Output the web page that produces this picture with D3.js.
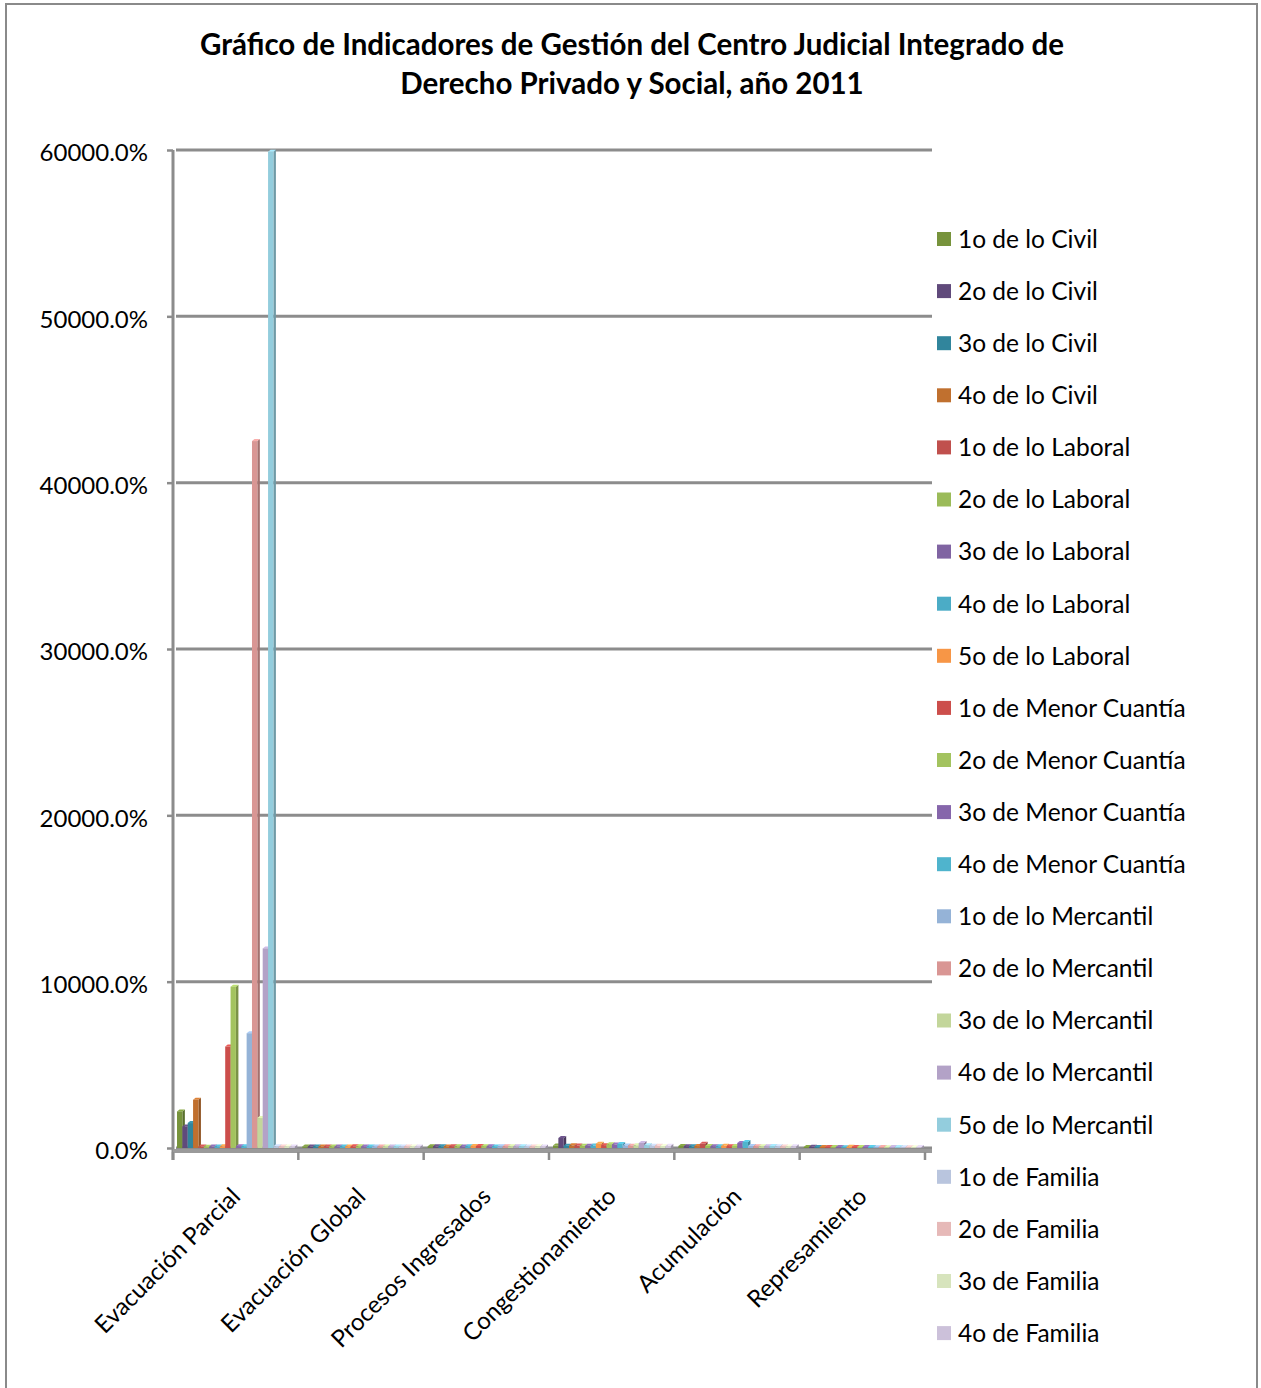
<!DOCTYPE html>
<html>
<head>
<meta charset="utf-8">
<script src="https://cdn.jsdelivr.net/npm/d3@7"></script>
<style>
  html, body { margin: 0; padding: 0; background: #fff; }
  svg { display: block; font-family: Lato, "Open Sans", sans-serif; }
</style>
</head>
<body>
<svg id="chart" width="1261" height="1388"></svg>
<script>
// ---------- data ----------
const titleLines = [
  "Gráfico de Indicadores de Gestión del Centro Judicial Integrado de",
  "Derecho Privado y Social, año 2011"
];
const categories = ["Evacuación Parcial", "Evacuación Global", "Procesos Ingresados",
  "Congestionamiento", "Acumulación", "Represamiento"];
const seriesNames = ["1o de lo Civil", "2o de lo Civil", "3o de lo Civil", "4o de lo Civil",
  "1o de lo Laboral", "2o de lo Laboral", "3o de lo Laboral", "4o de lo Laboral", "5o de lo Laboral",
  "1o de Menor Cuantía", "2o de Menor Cuantía", "3o de Menor Cuantía", "4o de Menor Cuantía",
  "1o de lo Mercantil", "2o de lo Mercantil", "3o de lo Mercantil", "4o de lo Mercantil", "5o de lo Mercantil",
  "1o de Familia", "2o de Familia", "3o de Familia", "4o de Familia"];
const seriesColors = ["#77933c", "#604a7b", "#31859c", "#c0702f",
  "#c0504d", "#9bbb59", "#8064a2", "#4bacc6", "#f79646",
  "#cc4e4b", "#a3c35f", "#8666ab", "#4fb4cd",
  "#95b3d7", "#d99694", "#c3d69b", "#b3a2c7", "#93cddd",
  "#b9c5de", "#e6b9b8", "#d7e4bd", "#ccc1da"];
// values in percent, one array per series (order of categories)
const v1Civil   = [2200, 95, 110, 150, 120, 60];
const v2Civil   = [1300, 90, 100, 600, 110, 70];
const v3Civil   = [1500, 92, 105, 140, 100, 55];
const v4Civil   = [2900, 88, 95, 160, 115, 65];
const v1Laboral = [90, 96, 110, 150, 250, 60];
const v2Laboral = [80, 94, 100, 130, 120, 55];
const v3Laboral = [85, 90, 90, 140, 110, 60];
const v4Laboral = [95, 93, 105, 150, 100, 50];
const v5Laboral = [100, 97, 115, 260, 130, 70];
const v1Menor   = [6100, 98, 120, 170, 110, 65];
const v2Menor   = [9700, 99, 110, 230, 120, 60];
const v3Menor   = [110, 95, 100, 210, 300, 55];
const v4Menor   = [105, 96, 95, 240, 360, 60];
const v1Merc    = [6900, 92, 110, 150, 120, 50];
const v2Merc    = [42500, 94, 105, 140, 110, 55];
const v3Merc    = [1800, 90, 100, 160, 100, 50];
const v4Merc    = [12000, 93, 100, 300, 110, 60];
const v5Merc    = [59900, 97, 110, 170, 120, 55];
const v1Fam     = [100, 95, 90, 140, 100, 50];
const v2Fam     = [95, 92, 95, 130, 95, 45];
const v3Fam     = [90, 90, 100, 120, 90, 50];
const v4Fam     = [85, 88, 95, 130, 100, 55];
const seriesValues = [v1Civil, v2Civil, v3Civil, v4Civil,
  v1Laboral, v2Laboral, v3Laboral, v4Laboral, v5Laboral,
  v1Menor, v2Menor, v3Menor, v4Menor,
  v1Merc, v2Merc, v3Merc, v4Merc, v5Merc,
  v1Fam, v2Fam, v3Fam, v4Fam];
const yTicks = [0, 10000, 20000, 30000, 40000, 50000, 60000];

// ---------- layout ----------
const svg = d3.select("#chart");
const plotLeft = 173, plotRight = 925, plotTop = 150, plotBottom = 1148;
const gridColor = "#8c8c8c";

// outer border
svg.append("rect").attr("x", 6).attr("y", 4).attr("width", 1251).attr("height", 1400)
  .attr("fill", "none").attr("stroke", "#8a8a8a").attr("stroke-width", 2);

// title
svg.append("g").selectAll("text").data(titleLines).join("text")
  .attr("x", 632).attr("y", (d, i) => 55 + i * 39)
  .attr("text-anchor", "middle").attr("font-weight", "bold").attr("font-size", 29.5)
  .attr("fill", "#000").text(d => d);

const x0 = d3.scaleBand().domain(categories).range([plotLeft, plotRight]).padding(0);
const x1 = d3.scaleBand().domain(seriesNames).range([4, x0.bandwidth() - 3.5]).padding(0);
const y = d3.scaleLinear().domain([0, 60000]).range([plotBottom, plotTop]);
const color = d3.scaleOrdinal().domain(seriesNames).range(seriesColors);

// gridlines
svg.append("g").selectAll("line").data(yTicks).join("line")
  .attr("x1", plotLeft + 3).attr("x2", 932)
  .attr("y1", d => y(d)).attr("y2", d => y(d))
  .attr("stroke", gridColor).attr("stroke-width", 3);

// y axis
const yAxis = d3.axisLeft(y).tickValues(yTicks).tickSize(6).tickPadding(19)
  .tickFormat(d => d3.format(".1f")(d) + "%");
const gy = svg.append("g").attr("transform", `translate(${plotLeft},0)`).call(yAxis);
gy.select(".domain").attr("stroke", gridColor).attr("stroke-width", 3)
  .attr("d", `M0,${plotTop}V${plotBottom + 12}`);
gy.selectAll(".tick line").attr("stroke", gridColor).attr("stroke-width", 2.5);
gy.selectAll(".tick text").attr("font-size", 24).attr("fill", "#000")
  .attr("font-family", "Lato, sans-serif").attr("dy", "0.45em");

// bars (3D-like)
const rows = [];
categories.forEach((c, ci) => {
  seriesNames.forEach((s, si) => rows.push({ c, s, si, v: seriesValues[si][ci] }));
});
const bw = x1.bandwidth();
const gBars = svg.append("g");
const bar = gBars.selectAll("g").data(rows).join("g")
  .attr("transform", d => `translate(${x0(d.c) + x1(d.s)},0)`);
bar.append("path")
  .attr("d", d => {
    const yt = y(d.v), yb = y(0);
    return `M${bw},${yt}L${bw + 2.5},${yt - 2}L${bw + 2.5},${yb}L${bw},${yb}Z`;
  })
  .attr("fill", d => d3.color(color(d.s)).darker(0.8));
bar.append("path")
  .attr("d", d => {
    const yt = y(d.v);
    return `M0,${yt}L2.5,${yt - 2}L${bw + 2.5},${yt - 2}L${bw},${yt}Z`;
  })
  .attr("fill", d => d3.color(color(d.s)).brighter(0.4));
bar.append("rect")
  .attr("x", 0).attr("width", bw)
  .attr("y", d => y(d.v)).attr("height", d => y(0) - y(d.v))
  .attr("fill", d => color(d.s));

// floor / x axis
svg.append("rect").attr("x", plotLeft).attr("y", plotBottom + 1).attr("width", 932 - plotLeft).attr("height", 4)
  .attr("fill", "#9a9a9a");
const xAxis = d3.axisBottom(x0).tickSize(0).tickPadding(0);
const gx = svg.append("g").attr("transform", `translate(0,${plotBottom + 4})`).call(xAxis);
gx.select(".domain").remove();
gx.selectAll(".tick text")
  .attr("font-size", 24).attr("fill", "#000").attr("font-family", "Lato, sans-serif")
  .attr("text-anchor", "end").attr("dy", 0)
  .attr("transform", "translate(6,46) rotate(-45)");
// category boundary ticks
svg.append("g").selectAll("line").data(d3.range(categories.length + 1)).join("line")
  .attr("x1", i => plotLeft + i * x0.step()).attr("x2", i => plotLeft + i * x0.step())
  .attr("y1", plotBottom + 4).attr("y2", plotBottom + 12)
  .attr("stroke", gridColor).attr("stroke-width", 2.5);

// legend
const legend = svg.append("g").selectAll("g").data(seriesNames).join("g")
  .attr("transform", (d, i) => `translate(937,${239 + i * 52.1})`);
legend.append("rect").attr("x", 0).attr("y", -7).attr("width", 14).attr("height", 14)
  .attr("fill", d => color(d));
legend.append("text").attr("x", 21).attr("y", 0).attr("dy", "0.36em")
  .attr("font-size", 24.5).attr("fill", "#000").text(d => d);
</script>
</body>
</html>
